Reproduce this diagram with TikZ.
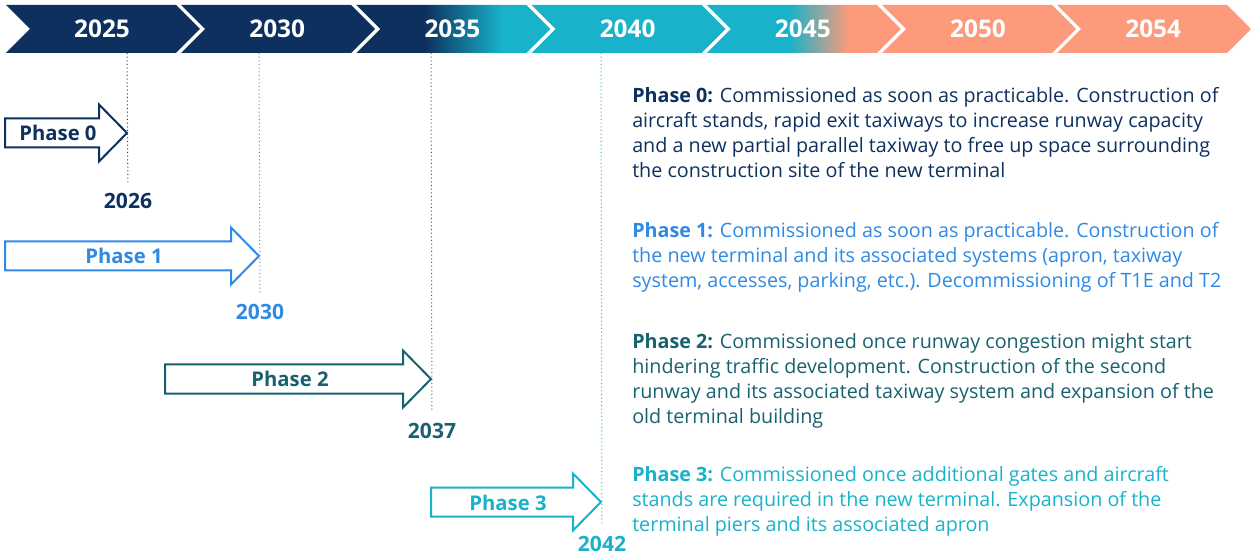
\documentclass[tikz,border=0pt]{standalone}
\usepackage{fontspec}
\setmainfont{Open Sans}
\definecolor{navy}{RGB}{13,48,94}
\definecolor{sky}{RGB}{46,138,229}
\definecolor{pine}{RGB}{23,98,111}
\definecolor{aqua}{RGB}{24,178,202}
\definecolor{salmon}{RGB}{252,154,123}
\tikzset{
  yearlabel/.style={text=white, font=\fontsize{18.3}{18.3}\selectfont\bfseries},
  phasearrow/.style={draw=#1, line width=1.5pt, fill=white, line join=miter},
  phasename/.style={text=#1, anchor=base, font=\fontsize{15.2}{15.2}\selectfont\bfseries},
  endyear/.style={text=#1, font=\fontsize{15.8}{15.8}\selectfont\bfseries},
  tickline/.style={draw=#1, dotted, line width=0.75pt, shorten >=5pt},
  phasetext/.style={text=#1, anchor=north west, align=left, inner sep=0pt,
    font=\fontsize{14.8}{18.6}\selectfont}
}
\begin{document}
\begin{tikzpicture}[x=0.75pt, y=-0.75pt]
		\useasboundingbox (0,0) rectangle (1251,555);
		% chevron band, colours blended under a clip
		\begin{scope}
			\clip \foreach \i in {0,...,6} { ({6+175.2*\i},5) -- ++(170,0) -- ++(24,24) -- ++(-24,24) -- ++(-170,0) -- ++(24,-24) -- cycle };
			\fill [navy] (0,0) rectangle (424,60);
			\shade [left color=navy, right color=aqua] (424,0) rectangle (502,60);
			\fill [aqua] (502,0) rectangle (789,60);
			\shade [left color=aqua, right color=salmon] (789,0) rectangle (849,60);
			\fill [salmon] (849,0) rectangle (1251,60);
		\end{scope}
		\foreach \yr [count=\i from 0] in {2025, 2030, 2035, 2040, 2045, 2050, 2054}
			\node [yearlabel] (band_\yr) at ({102+175.2*\i},29) {\yr};

		% phases: number/tail/tip/y/colour/end year/label y
		\foreach \p/\a/\b/\y/\c/\e/\ly in {0/5/127/133/navy/2026/201, 1/5/259/256/sky/2030/312, 2/165/431/379/pine/2037/431, 3/431/601/502/aqua/2042/544}
		{
			\coordinate (top_\p) at (\b,53);
			\node [endyear=\c] (end_\p) at ({\b+1},\ly) {\e};
			\draw [tickline=\c] (top_\p) -- (end_\p);
			\draw [phasearrow=\c] (\a,{\y-14.5}) -- ({\b-28},{\y-14.5}) -- ({\b-28},{\y-28.5}) -- (\b,\y)
				-- ({\b-28},{\y+28.5}) -- ({\b-28},{\y+14.5}) -- (\a,{\y+14.5}) -- cycle;
			\node [phasename=\c] (phase_\p) at ({(\a+\b-16)/2},{\y+8}) {Phase \p};
		}

		% descriptions
		\node [phasetext=navy] (text_0) at (632,87.5) {\textbf{Phase 0:} Commissioned as soon as practicable. Construction of\\
			aircraft stands, rapid exit taxiways to increase runway capacity\\
			and a new partial parallel taxiway to free up space surrounding\\
			the construction site of the new terminal};
		\node [phasetext=sky] (text_1) at (632,222.5) {\textbf{Phase 1:} Commissioned as soon as practicable. Construction of\\
			the new terminal and its associated systems (apron, taxiway\\
			system, accesses, parking, etc.). Decommissioning of T1E and T2};
		\node [phasetext=pine] (text_2) at (632,333.5) {\textbf{Phase 2:} Commissioned once runway congestion might start\\
			hindering traffic development. Construction of the second\\
			runway and its associated taxiway system and expansion of the\\
			old terminal building};
		\node [phasetext=aqua] (text_3) at (632,466.5) {\textbf{Phase 3:} Commissioned once additional gates and aircraft\\
			stands are required in the new terminal. Expansion of the\\
			terminal piers and its associated apron};
	\end{tikzpicture}
\end{document}
